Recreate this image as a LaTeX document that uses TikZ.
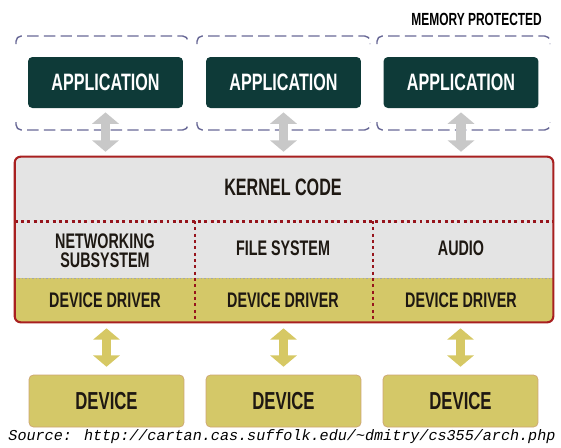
\documentclass[tikz,border=0pt]{standalone}
\usepackage{fontspec}
\usepackage{tikz}
\usetikzlibrary{arrows.meta,positioning}
\newfontfamily\labelfont[FakeStretch=0.68]{Liberation Sans}
\newfontfamily\sourcefont{Liberation Mono}
\definecolor{appteal}{RGB}{14,58,56}
\definecolor{protblue}{RGB}{104,104,150}
\definecolor{kernelred}{RGB}{168,32,32}
\definecolor{dotred}{RGB}{150,20,28}
\definecolor{kernelgray}{RGB}{228,228,228}
\definecolor{driveryellow}{RGB}{212,200,104}
\definecolor{devedge}{RGB}{205,165,115}
\definecolor{arrowgray}{RGB}{200,200,200}
\definecolor{arrowyellow}{RGB}{214,200,100}
\definecolor{inktext}{RGB}{30,24,18}
\tikzstyle{protect} = [protblue, line width=0.8pt, dash pattern=on 6.5pt off 3pt, rounded corners=3pt]
\tikzstyle{application} = [rectangle, rounded corners=2.5pt, minimum width=3.1cm, minimum height=1.02cm, fill=appteal, text=white, font=\labelfont\bfseries\fontsize{13.5}{15}\selectfont]
\tikzstyle{device} = [rectangle, rounded corners=2.5pt, minimum width=3.1cm, minimum height=1.04cm, fill=driveryellow, draw=devedge, line width=0.4pt, text=inktext, font=\labelfont\bfseries\fontsize{14}{16}\selectfont]
\tikzstyle{kerneltext} = [text=inktext, align=center, font=\labelfont\bfseries\fontsize{12}{11}\selectfont]
\tikzstyle{reddots} = [dotred, line width=1.7pt, dash pattern=on 1.7pt off 1.9pt]
\tikzstyle{kernelarrow} = [line width=5.5pt, draw=arrowgray, arrows={Triangle[width=15pt,length=6.5pt]-Triangle[width=15pt,length=6.5pt]}, shorten <=2.3pt, shorten >=2.8pt]
\tikzstyle{devarrow} = [line width=4.8pt, draw=arrowyellow, arrows={Triangle[width=15pt,length=6.5pt]-Triangle[width=15pt,length=6.5pt]}, shorten <=3.4pt, shorten >=4.5pt]

\begin{document}
\begin{tikzpicture}[x=0.02cm, y=-0.02cm]
\useasboundingbox (0,0) rectangle (561,447);

% Memory protected regions
\foreach \l/\r in {16/188, 197/370, 377/550} {
  \draw[protect] (\l,44) -- (\l,36) -- (\r,36) -- (\r,44);
  \draw[protect] (\l,122) -- (\l,130) -- (\r,130) -- (\r,122);
}
\node[anchor=east, text=black, font=\labelfont\bfseries\fontsize{10}{12}\selectfont] (memlabel) at (548,19) {MEMORY PROTECTED};

% Applications
\node[application] (app1) at (105.5,82.5) {APPLICATION};
\node[application] (app2) at (283.5,82.5) {APPLICATION};
\node[application] (app3) at (461,82.5) {APPLICATION};

% Kernel
\node[rectangle, rounded corners=3.4pt, minimum width=10.76cm, minimum height=3.3cm, fill=kernelgray] (kernel) at (284,239.5) {};
\begin{scope}
\clip[rounded corners=3.4pt] (kernel.south west) rectangle (kernel.north east);
\fill[driveryellow] (kernel.south west) rectangle (kernel.east |- 0,278);
\end{scope}
\draw[gray!70, line width=0.5pt, dash pattern=on 0.8pt off 1.2pt] (kernel.west |- 0,278) -- (kernel.east |- 0,278);
\coordinate (split1) at (195,221);
\coordinate (split2) at (373,221);
\draw[reddots] (kernel.west |- split1) -- (kernel.east |- split1);
\draw[reddots] (split1) -- (split1 |- kernel.south);
\draw[reddots] (split2) -- (split2 |- kernel.south);
\draw[kernelred, line width=1.2pt, rounded corners=3.4pt] (kernel.south west) rectangle (kernel.north east);

\node[kerneltext, font=\labelfont\bfseries\fontsize{13.5}{15}\selectfont] (kcode) at (283,187) {KERNEL CODE};
\node[kerneltext] (net) at (105,251) {NETWORKING\\SUBSYSTEM};
\node[kerneltext] (files) at (283,248) {FILE SYSTEM};
\node[kerneltext] (audio) at (461,248) {AUDIO};
\node[kerneltext] (drv1) at (105,300) {DEVICE DRIVER};
\node[kerneltext] (drv2) at (283,300) {DEVICE DRIVER};
\node[kerneltext] (drv3) at (461,300) {DEVICE DRIVER};

% Devices
\node[device] (dev1) at (106.5,401) {DEVICE};
\node[device] (dev2) at (283.5,401) {DEVICE};
\node[device] (dev3) at (460.5,401) {DEVICE};

% Arrows
\foreach \n in {1,2,3} {
  \draw[kernelarrow] (app\n.south) -- (app\n.south |- kernel.north);
  \draw[devarrow] (kernel.south -| dev\n.north) -- (dev\n.north);
}

\node[font=\sourcefont\itshape\fontsize{8.6}{10}\selectfont] (source) at (282,437) {Source: http://cartan.cas.suffolk.edu/\textasciitilde dmitry/cs355/arch.php};
\end{tikzpicture}
\end{document}
